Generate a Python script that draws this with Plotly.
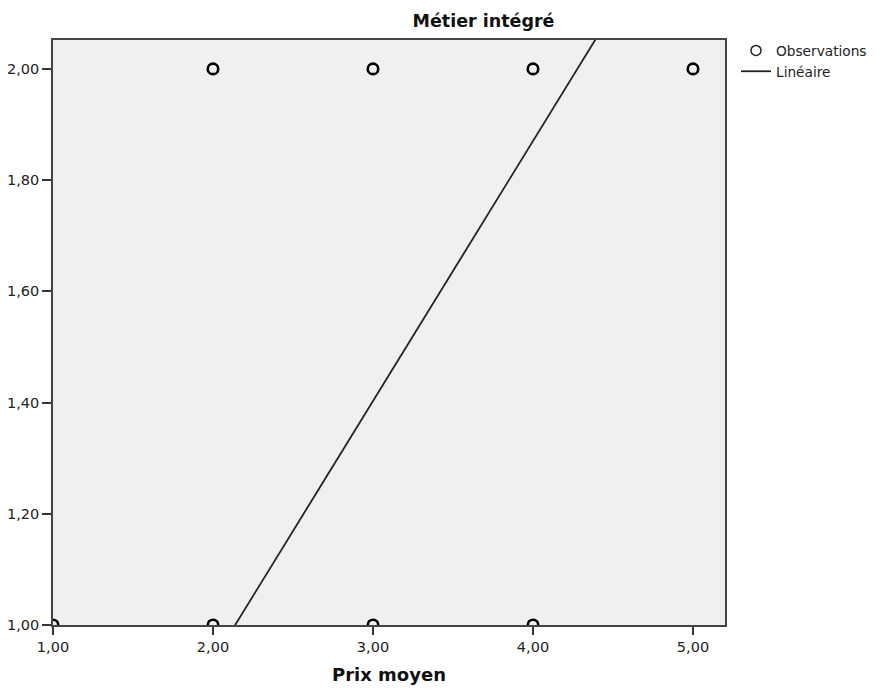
import plotly.graph_objects as go

# Observations
obs_x = [1, 2, 3, 4, 2, 3, 4, 5]
obs_y = [1, 1, 1, 1, 2, 2, 2, 2]

# Linear fit coefficients
fit_intercept = 0.0
fit_slope = 0.4676
fit_x = [1.0, 5.2]
fit_y = [fit_intercept + fit_slope * v for v in fit_x]

x_ticks = [1, 2, 3, 4, 5]
y_ticks = [1.0, 1.2, 1.4, 1.6, 1.8, 2.0]

font_family = "DejaVu Sans, Arial, sans-serif"

# page body has an 8px default margin: figure coords = screen coords - 8
L, T, R, B = 45, 32, 717, 617
W, H = 879, 691

fig = go.Figure()
fig.add_trace(go.Scatter(
    x=obs_x, y=obs_y, mode="markers", name="Observations", showlegend=False,
    marker=dict(symbol="circle-open", size=10.5, color="black",
                line=dict(width=2.6, color="black")),
))
# legend entry for observations (thinner symbol as in the reference)
fig.add_trace(go.Scatter(
    x=[None], y=[None], mode="markers", name="Observations",
    marker=dict(symbol="circle-open", size=10, color="#222222",
                line=dict(width=1.5, color="#222222")),
))
fig.add_trace(go.Scatter(
    x=fit_x, y=fit_y, mode="lines", name="Linéaire",
    line=dict(color="#222222", width=1.8),
))

fig.update_layout(
    width=W, height=H,
    margin=dict(l=L, r=W - R, t=T, b=H - B, autoexpand=False),
    paper_bgcolor="white",
    plot_bgcolor="#F0F0F0",
    separators=", ",
    font=dict(family=font_family, size=14.5, color="#222222"),
    title=dict(text="<b>Métier intégré</b>", x=475.5 / W, xanchor="center", xref="container",
               y=1 - 13 / H, yanchor="middle",
               font=dict(size=17.5, color="#111111")),
    showlegend=True,
    legend=dict(x=(728 - L) / (R - L), xanchor="left", y=1.0085, yanchor="top",
                bgcolor="rgba(0,0,0,0)", font=dict(size=13.7, color="#222222"),
                tracegroupgap=0, itemwidth=30),
)
fig.update_xaxes(
    range=[1, 5.2], tickvals=x_ticks, tickformat=".2f", automargin=False,
    showgrid=False, zeroline=False,
    showline=True, mirror=True, linecolor="#444444", linewidth=1.6,
    ticks="outside", ticklen=8, tickcolor="#333333", tickwidth=1.6,
    title=dict(text="<b>Prix moyen</b>", font=dict(size=18, color="#111111"), standoff=14),
)
fig.update_yaxes(
    range=[1, 2.052], tickvals=y_ticks, tickformat=".2f", automargin=False,
    showgrid=False, zeroline=False,
    showline=True, mirror=True, linecolor="#444444", linewidth=1.6,
    ticks="outside", ticklen=9, tickcolor="#333333", tickwidth=1.6,
)

fig.write_html("out.html")
